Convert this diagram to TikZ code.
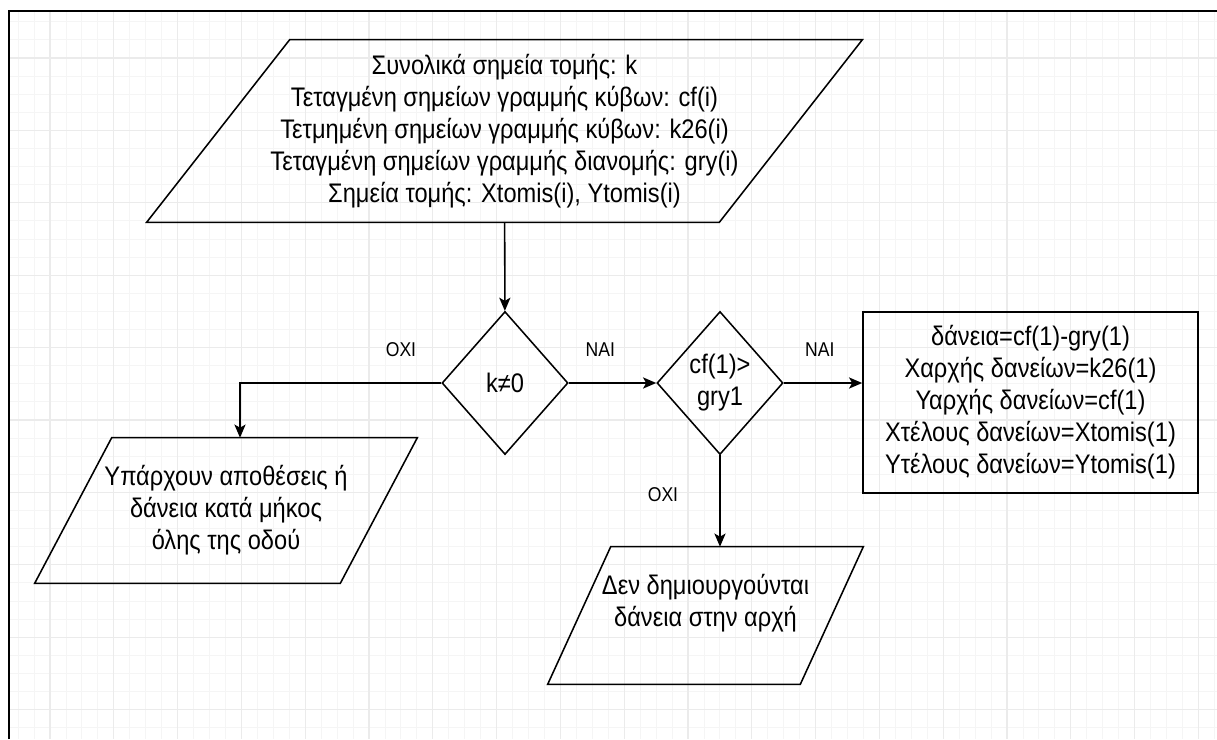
\documentclass[tikz,border=0pt]{standalone}
\usepackage{fontspec}
\setmainfont{Liberation Sans}
\newfontfamily\chartfont[FakeStretch=0.88]{Liberation Sans}
\usetikzlibrary{arrows.meta,shapes.geometric,positioning}

\begin{document}
\begin{tikzpicture}[x=0.025cm,y=-0.025cm,>={Stealth[length=0.33cm,width=0.28cm,inset=0.08cm]},
  font=\chartfont\fontsize{19.1}{22.8}\selectfont,
  gridminor/.style={draw=black!4,line width=0.6pt},
  gridmajor/.style={draw=black!8,line width=0.8pt},
  outline/.style={draw,line width=1.1pt,line join=miter},
  iobox/.style={align=center,inner sep=0pt},
  decision/.style={outline,diamond,align=center,inner sep=0pt,minimum width=3.15cm,minimum height=3.575cm},
  procbox/.style={outline,align=center,minimum width=8.375cm,minimum height=4.525cm},
  flow/.style={->,line width=1.1pt},
  answer/.style={font=\chartfont\fontsize{14.2}{17}\selectfont}]
  \useasboundingbox (0,0) rectangle (1217,739);

  % background grid
  \foreach \i in {0,...,75}
    \draw[gridminor] ({18.1+15.95*\i},11) -- ({18.1+15.95*\i},739);
  \foreach \j in {0,...,39}
    \draw[gridminor] (9,{21.8+18.1*\j}) -- (1217,{21.8+18.1*\j});
  \foreach \i in {0,...,18}
    \draw[gridmajor] ({50+63.8*\i},11) -- ({50+63.8*\i},739);
  \foreach \j in {0,...,9}
    \draw[gridmajor] (9,{58+72.4*\j}) -- (1217,{58+72.4*\j});
  \draw[line width=1.5pt] (9,739) -- (9,11) -- (1217,11);

  \node[iobox,minimum width=14.3cm,minimum height=4.55cm] (data) at (504.5,131)
    {Συνολικά σημεία τομής: k\\
     Τεταγμένη σημείων γραμμής κύβων: cf(i)\\
     Τετμημένη σημείων γραμμής κύβων: k26(i)\\
     Τεταγμένη σημείων γραμμής διανομής: gry(i)\\
     Σημεία τομής: Xtomis(i), Ytomis(i)};
  \node[decision] (knz) at (505,383) {k≠0};
  \node[decision] (cmp) at (720,383) {cf(1)>\\gry1};
  \node[procbox] (loans) at (1030.5,402.5)
    {δάνεια=cf(1)-gry(1)\\
     Χαρχής δανείων=k26(1)\\
     Υαρχής δανείων=cf(1)\\
     Χτέλους δανείων=Xtomis(1)\\
     Υτέλους δανείων=Ytomis(1)};
  \node[iobox,minimum width=7.625cm,minimum height=3.625cm] (whole) at (226,510.5)
    {Υπάρχουν αποθέσεις ή\\δάνεια κατά μήκος\\όλης της οδού};
  \node[iobox,minimum width=6.3cm,minimum height=2.825cm] (noloan) at (705.5,603.5)
    {Δεν δημιουργούνται\\δάνεια στην αρχή};

  % parallelogram outlines (name/half slant/extra depth)
  \foreach \n/\s/\b in {data/1.7875cm/0cm,whole/0.9625cm/0cm,noloan/0.7875cm/0.6cm}
    \draw[outline] ([xshift=\s]\n.north west) -- ([xshift=\s]\n.north east)
      -- ([xshift=-\s,yshift=-\b]\n.south east) -- ([xshift=-\s,yshift=-\b]\n.south west) -- cycle;

  \draw[flow] (data) -- (knz);
  \draw[flow] (knz.west) -| ([xshift=0.35cm]whole.north)
    node[answer,pos=0.1,yshift=0.825cm] (no1) {ΟΧΙ};
  \draw[flow] (knz.east) -- (cmp.west)
    node[answer,pos=0.36,yshift=0.825cm] (yes1) {ΝΑΙ};
  \draw[flow] (cmp.east) -- (cmp.east -| loans.west)
    node[answer,pos=0.46,yshift=0.825cm] (yes2) {ΝΑΙ};
  \draw[flow] (cmp.south) -- (cmp.south |- noloan.north)
    node[answer,pos=0.43,xshift=-1.425cm] (no2) {ΟΧΙ};
\end{tikzpicture}
\end{document}
